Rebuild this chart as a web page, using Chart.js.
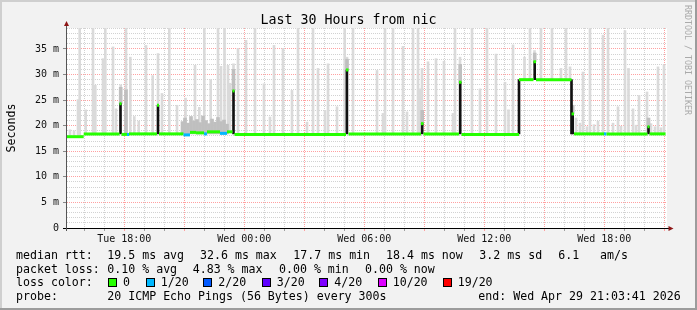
<!DOCTYPE html>
<html><head><meta charset="utf-8">
<script src="https://cdn.jsdelivr.net/npm/chart.js@4.4.1/dist/chart.umd.min.js"></script>
<style>html,body{margin:0;padding:0;background:#f2f2f2;}canvas{display:block;}</style>
</head><body>
<canvas id="c" width="697" height="310"></canvas>
<script>
// ---------------- data (hours since Tue 00:00, values in ms) ----------------
const endHour = 45.0614;              // Wed 21:03:41
const viewStart = 15.135, viewEnd = 45.135;
const dayNames = ['Tue', 'Wed'];
const hourTicks = [16,17,18,19,20,21,22,23,24,25,26,27,28,29,30,31,32,33,34,35,36,37,38,39,40,41,42,43,44,45];
const msTicks = [0,1,2,3,4,5,6,7,8,9,10,11,12,13,14,15,16,17,18,19,20,21,22,23,24,25,26,27,28,29,30,31,32,33,34,35,36,37,38,39];

// median rtt, as runs (start hour, value, loss colour index)
const medianStart = [15.06,15.97,17.76,17.86,18.135,18.235,19.635,19.735,20.96,21.285,21.585,21.985,22.135,22.785,23.135,23.41,
                     23.51,29.085,29.21,32.835,32.96,34.735,34.86,37.735,38.46,38.585,40.36,40.485,41.985,42.11,44.16,44.26];
const medianValue = [17.85,18.4,24.3,18.3,18.3,18.4,24.0,18.4,18.2,18.7,18.6,18.4,18.8,18.5,18.8,26.8,
                     18.3,30.9,18.4,20.4,18.4,28.5,18.3,29.0,32.5,29.0,22.3,18.4,18.4,18.4,19.8,18.4];
const medianLoss  = [0,0,0,0,1,0,0,0,1,0,0,1,0,1,0,0,
                     0,0,0,0,0,0,0,0,0,0,0,0,1,0,0,0];

// light smoke: highest ping per column
const smokeTime = [15.285,15.485,15.685,15.77,16.07,16.435,16.55,16.935,17.05,17.435,
                   17.585,17.82,18.085,18.30,18.50,18.72,19.085,19.42,19.685,19.885,
                   20.25,20.635,21.06,21.535,21.75,22.00,22.32,22.685,22.835,23.01,
                   23.185,23.285,23.46,23.685,24.085,24.535,24.985,25.285,25.485,25.935,
                   26.385,26.685,27.135,27.435,27.685,28.035,28.185,28.635,29.02,29.135,
                   29.435,30.635,30.935,31.035,31.435,31.935,32.135,32.435,32.685,32.785,
                   32.885,33.185,33.585,33.985,34.435,34.535,34.785,35.385,35.785,36.135,
                   36.585,37.035,37.21,37.435,38.01,38.285,38.51,38.835,39.385,39.835,
                   40.085,40.285,40.585,40.785,40.935,41.135,41.285,41.485,41.685,41.935,
                   42.185,42.435,42.685,42.835,43.035,43.21,43.435,43.585,43.735,44.135,
                   44.335,44.535,44.685,44.835,44.985];
const smokeTop  = [19.2,19.0,25.1,39.5,23.1,39.5,27.9,33.1,39.5,35.4,
                   23.3,28.0,39.5,33.4,21.8,20.9,35.7,29.8,34.1,26.3,
                   39.5,24.0,25.4,31.8,23.6,39.5,29.0,39.5,31.6,39.5,
                   31.8,28.3,32.1,35.1,36.7,39.5,28.2,21.7,35.7,35.1,
                   26.9,39.5,20.7,39.5,31.2,23.0,32.1,23.7,39.5,33.4,
                   39.5,30.8,22.4,39.5,39.5,35.5,22.7,39.5,39.5,27.2,
                   31.2,32.5,33.1,32.6,22.4,39.5,33.4,39.5,27.2,39.5,
                   34.0,28.5,23.1,35.8,33.4,39.5,34.7,39.5,39.5,31.2,
                   39.5,31.5,21.5,20.5,30.5,19.8,39.5,20.2,20.9,37.7,
                   39.5,20.5,23.7,19.9,38.6,31.2,23.3,20.1,25.9,26.6,
                   20.4,19.8,31.5,19.6,31.9];

// denser smoke (many pings)
const midTime = [17.82,18.085,20.91,21.035,21.185,21.335,21.485,21.635,21.785,21.935,22.085,22.235,22.385,
                 22.535,22.685,22.835,22.985,23.135,23.46,29.135,32.895,34.795,38.52,40.42,44.21];
const midLow  = [24.3,18.4,18.4,18.4,18.4,18.4,18.4,18.4,18.4,18.4,18.4,18.4,18.4,
                 18.4,18.4,18.4,18.4,18.4,26.8,30.9,20.4,28.5,32.5,22.3,19.8];
const midHigh = [27.5,27.0,20.8,21.5,20.5,21.8,20.9,21.2,20.6,21.9,21.0,20.4,21.3,
                 20.7,21.6,20.8,21.1,20.3,31.0,33.0,23.0,32.0,34.2,24.0,21.5];

// darkest smoke core at median jumps
const coreTime = [17.81,19.685,23.46,29.13,32.895,34.795,37.735,38.52,40.36,40.42,44.21];
const coreLow  = [18.4,18.4,18.4,18.4,18.4,18.4,18.4,29.0,18.4,18.4,18.4];
const coreHigh = [24.3,24.0,26.8,30.9,20.4,28.5,29.0,32.5,29.0,22.3,19.8];

const lossColors = ['#26ff00','#00b8ff','#0059ff','#5e00ff','#7e00ff','#dd00ff','#ff0000'];
const lossLabels = ['0','1/20','2/20','3/20','4/20','10/20','19/20'];
const rttStats  = ['19.5 ms avg','32.6 ms max','17.7 ms min','18.4 ms now','3.2 ms sd','6.1','am/s'];
const lossStats = ['0.10 % avg','4.83 % max','0.00 % min','0.00 % now'];
const probeText = '20 ICMP Echo Pings (56 Bytes) every 300s';
const endText   = 'end: Wed Apr 29 21:03:41 2026';
const titleText = 'Last 30 Hours from nic';

// ---------------- build ----------------
function medianAt(t) {
  let v = medianValue[0];
  for (let i = 0; i < medianStart.length; i++) if (medianStart[i] <= t) v = medianValue[i];
  return v;
}
const medianPoints = [];
medianStart.forEach((s, i) => {
  const e = i + 1 < medianStart.length ? medianStart[i + 1] : endHour;
  medianPoints.push({x: s, y: medianValue[i]}, {x: e, y: medianValue[i]});
});
const smokeData = smokeTime.map((t, i) => ({x: t, y: [medianAt(t), smokeTop[i]]}));
const midData = midTime.map((t, i) => ({x: t, y: [midLow[i], midHigh[i]]}));
const coreData = coreTime.map((t, i) => ({x: t, y: [coreLow[i], coreHigh[i]]}));

const FONT = '"DejaVu Sans Mono", monospace';
Chart.defaults.font.family = '"DejaVu Sans Mono", monospace';
const RED = '#ffa0a0', GRAY = '#d2d2d2';

const decor = {
  id: 'decor',
  beforeDraw(chart) {
    const c = chart.ctx, a = chart.chartArea, W = chart.width, H = chart.height;
    c.save();
    c.fillStyle = '#f2f2f2'; c.fillRect(0, 0, W, H);
    c.fillStyle = '#cfcfcf'; c.fillRect(0, 0, W, 2); c.fillRect(0, 0, 2, H);
    c.fillStyle = '#9c9c9c'; c.fillRect(0, H - 2, W, 2); c.fillRect(W - 2, 0, 2, H);
    c.fillStyle = '#ffffff'; c.fillRect(a.left, a.top, a.right - a.left, a.bottom - a.top);
    c.restore();
  },
  afterDatasetsDraw(chart) {
    const c = chart.ctx, a = chart.chartArea;
    c.save();
    c.lineWidth = 1;
    c.strokeStyle = '#000';
    c.beginPath(); c.moveTo(a.left - 4, a.bottom + 0.5); c.lineTo(a.right + 2, a.bottom + 0.5); c.stroke();
    c.strokeStyle = '#555';
    c.beginPath(); c.moveTo(a.left - 0.5, a.bottom + 3); c.lineTo(a.left - 0.5, a.top - 3); c.stroke();
    c.fillStyle = '#8e1616';
    c.beginPath(); c.moveTo(a.right + 6.5, a.bottom + 0.5); c.lineTo(a.right + 1.5, a.bottom - 2); c.lineTo(a.right + 1.5, a.bottom + 3); c.closePath(); c.fill();
    c.beginPath(); c.moveTo(a.left - 0.5, a.top - 7); c.lineTo(a.left - 3, a.top - 2); c.lineTo(a.left + 2, a.top - 2); c.closePath(); c.fill();
    c.restore();
  },
  afterDraw(chart) {
    const c = chart.ctx;
    c.save();
    c.fillStyle = '#000';
    c.textBaseline = 'alphabetic';
    c.textAlign = 'center';
    c.font = '13.3px ' + FONT;
    c.fillText(titleText, 348.5, 24);
    // y title
    c.save(); c.translate(15, 128); c.rotate(-Math.PI / 2);
    c.font = '11.6px ' + FONT; c.fillText('Seconds', 0, 0); c.restore();
    // watermark
    c.save(); c.translate(685, 5); c.rotate(Math.PI / 2);
    c.textAlign = 'left'; c.fillStyle = '#aaaaaa'; c.font = '8.3px ' + FONT;
    c.fillText('RRDTOOL / TOBI OETIKER', 0, 0); c.restore();
    // legend
    c.textAlign = 'left';
    c.font = '11.6px ' + FONT;
    const r1 = 258.8, r2 = 272.5, r3 = 286.2, r4 = 299.9;
    c.fillText('median rtt:', 16, r1);
    [107.3, 200, 293.3, 386, 479.3, 558.3, 600].forEach((x, i) => c.fillText(rttStats[i], x, r1));
    c.fillText('packet loss:', 16, r2);
    [107.3, 192.7, 279, 365].forEach((x, i) => c.fillText(lossStats[i], x, r2));
    c.fillText('loss color:', 16, r3);
    const boxX = [108, 145.7, 203.3, 261.7, 319.3, 377.7, 442.7];
    boxX.forEach((x, i) => {
      const bx = Math.round(x);
      c.fillStyle = lossColors[i]; c.fillRect(bx, 278, 8, 8);
      c.strokeStyle = '#000'; c.lineWidth = 1; c.strokeRect(bx + 0.5, 278.5, 8, 8);
      c.fillStyle = '#000'; c.fillText(lossLabels[i], x + 15, r3);
    });
    c.fillText('probe:', 16, r4);
    c.fillText(probeText, 107.3, r4);
    c.fillText(endText, 478.3, r4);
    c.restore();
  }
};

new Chart(document.getElementById('c'), {
  type: 'bar',
  data: {
    datasets: [
      {type: 'line', label: 'median', data: medianPoints, order: 0, borderWidth: 3, pointRadius: 0,
       tension: 0, borderCapStyle: 'butt', borderColor: lossColors[0],
       segment: {borderColor: ctx => (ctx.p0DataIndex % 2 === 1) ? 'rgba(0,0,0,0)' : lossColors[medianLoss[ctx.p0DataIndex >> 1]]}},
      {label: 'core', data: coreData, order: 1, backgroundColor: '#111111', barThickness: 2, grouped: false},
      {label: 'dense', data: midData, order: 2, backgroundColor: '#bfbfbf', barThickness: 3, grouped: false},
      {label: 'smoke', data: smokeData, order: 3, backgroundColor: '#dadada', barThickness: 2, grouped: false}
    ]
  },
  options: {
    responsive: false, animation: false, devicePixelRatio: 1,
    layout: {padding: {left: 0, right: 30, top: 28, bottom: 62}},
    plugins: {legend: {display: false}, tooltip: {enabled: false}, title: {display: false}},
    scales: {
      x: {
        type: 'linear', min: viewStart, max: viewEnd, offset: false,
        afterBuildTicks: s => { s.ticks = hourTicks.map(v => ({value: v})); },
        afterFit: s => { s.height = 20; },
        border: {display: false, dash: [1, 1]},
        grid: {offset: false, drawTicks: true, tickLength: 3,
               color: ctx => (ctx.tick && ctx.tick.value % 3 === 0) ? RED : GRAY,
               tickColor: ctx => (ctx.tick && ctx.tick.value % 3 === 0) ? RED : '#a0a0a0'},
        ticks: {autoSkip: false, maxRotation: 0, minRotation: 0, padding: 2, color: '#111',
                font: {size: 10, family: FONT},
                callback: v => v % 6 === 0 ? dayNames[Math.floor(v / 24)] + ' ' + String(v % 24).padStart(2, '0') + ':00' : ''}
      },
      y: {
        type: 'linear', min: 0, max: 39.1,
        afterBuildTicks: s => { s.ticks = msTicks.map(v => ({value: v})); },
        afterFit: s => { s.width = 67; },
        border: {display: false, dash: [1, 1]},
        grid: {drawTicks: true, tickLength: 4,
               color: ctx => (ctx.tick && ctx.tick.value % 5 === 0) ? RED : GRAY,
               tickColor: ctx => (ctx.tick && ctx.tick.value % 5 === 0) ? '#888' : 'rgba(0,0,0,0)'},
        ticks: {autoSkip: false, padding: 4, color: '#111', font: {size: 10, family: FONT},
                callback: v => v % 5 === 0 ? (v === 0 ? '0' : v + ' m') : ''}
      }
    }
  },
  plugins: [decor]
});
</script>
</body></html>
